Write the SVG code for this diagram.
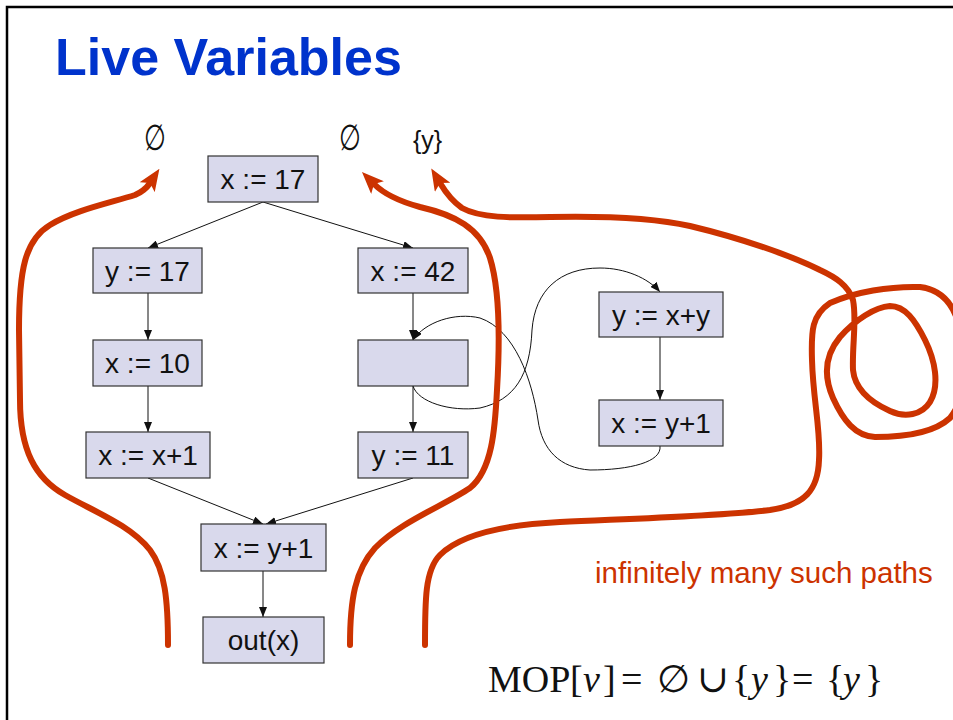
<svg xmlns="http://www.w3.org/2000/svg" width="953" height="720" viewBox="0 0 953 720">
<style>
.box{fill:#D9D9EC;stroke:#333;stroke-width:1.2}
.lbl{font-family:"Liberation Sans",Arial,sans-serif;font-size:28px;fill:#111;text-anchor:middle}
.edge{fill:none;stroke:#111;stroke-width:1}
.red{fill:none;stroke:#CC3300;stroke-width:6;stroke-linecap:round;stroke-linejoin:round}
.set{font-family:"Liberation Sans","DejaVu Sans",sans-serif;fill:#111}
.math{font-family:"Liberation Serif","DejaVu Serif",serif;font-size:38px;fill:#111}
</style>
<defs>
<marker id="ah" viewBox="0 0 10 8" refX="10" refY="4" markerWidth="10" markerHeight="8" markerUnits="userSpaceOnUse" orient="auto">
<path d="M0,0 L10,4 L0,8 z" fill="#111"/>
</marker>
<marker id="rh" viewBox="0 0 22 18" refX="5" refY="9" markerWidth="22" markerHeight="18" markerUnits="userSpaceOnUse" orient="auto">
<path d="M0,0 L22,9 L0,18 L5,9 z" fill="#CC3300"/>
</marker>
</defs>
<rect width="953" height="720" fill="#fff"/>
<path d="M7,720 L7,7 L953,7" fill="none" stroke="#000" stroke-width="2.5"/>
<text x="55" y="75" font-family="Liberation Sans,Arial,sans-serif" font-weight="bold" font-size="52" fill="#0033CC">Live Variables</text>

<g id="sets">
<text class="set" x="155" y="150" text-anchor="middle" style="font-size:36px" transform="translate(155,0) scale(0.7,1) translate(-155,0)">∅</text>
<text class="set" x="350" y="150" text-anchor="middle" style="font-size:36px" transform="translate(350,0) scale(0.7,1) translate(-350,0)">∅</text>
<text class="set" x="413" y="149" style="font-size:25px">{y}</text>
</g>

<g id="connectors">
<path class="edge" d="M263,202 L148,248" marker-end="url(#ah)"/>
<path class="edge" d="M263,202 L413,248" marker-end="url(#ah)"/>
<path class="edge" d="M148,293 L148,340" marker-end="url(#ah)"/>
<path class="edge" d="M148,386 L148,432" marker-end="url(#ah)"/>
<path class="edge" d="M148,478 L263,524" marker-end="url(#ah)"/>
<path class="edge" d="M413,478 L266,524" marker-end="url(#ah)"/>
<path class="edge" d="M263,571 L263,617" marker-end="url(#ah)"/>
<path class="edge" d="M413,293 L413,340" marker-end="url(#ah)"/>
<path class="edge" d="M413,386 L413,432" marker-end="url(#ah)"/>
<path class="edge" d="M660,337 L660,400" marker-end="url(#ah)"/>
<path class="edge" d="M413,386 C418,402 450,412 480,408 C515,400 530,375 532,330 C535,290 560,268 600,268 C625,268 648,278 660,292" marker-end="url(#ah)"/>
<path class="edge" d="M660,446 C662,462 630,470 590,470 C560,468 542,450 538,420 C532,380 515,330 480,318 C455,312 425,322 413,340" marker-end="url(#ah)"/>
</g>

<g id="n1"><rect class="box" x="208" y="156" width="110" height="46"/><text class="lbl" x="263" y="189">x := 17</text></g>
<g id="n2"><rect class="box" x="93" y="248" width="109" height="45"/><text class="lbl" x="147.5" y="281">y := 17</text></g>
<g id="n3"><rect class="box" x="93" y="340" width="109" height="46"/><text class="lbl" x="147.5" y="373">x := 10</text></g>
<g id="n4"><rect class="box" x="86" y="432" width="124" height="46"/><text class="lbl" x="148" y="465">x := x+1</text></g>
<g id="n5"><rect class="box" x="358" y="248" width="110" height="45"/><text class="lbl" x="413" y="281">x := 42</text></g>
<g id="n6"><rect class="box" x="358" y="340" width="110" height="46"/></g>
<g id="n7"><rect class="box" x="358" y="432" width="110" height="46"/><text class="lbl" x="413" y="465">y := 11</text></g>
<g id="n8"><rect class="box" x="201" y="524" width="125" height="47"/><text class="lbl" x="263.5" y="558">x := y+1</text></g>
<g id="n9"><rect class="box" x="203" y="617" width="121" height="46"/><text class="lbl" x="263.5" y="650">out(x)</text></g>
<g id="n10"><rect class="box" x="599" y="292" width="124" height="45"/><text class="lbl" x="661" y="325">y := x+y</text></g>
<g id="n11"><rect class="box" x="599" y="400" width="124" height="46"/><text class="lbl" x="661" y="433">x := y+1</text></g>

<g id="paths">
<path class="red" d="M168,645 C168,600 165,570 150,550 C130,525 95,512 65,495 C35,478 20,450 20,400 L19,330 C19,270 25,240 50,225 C75,210 110,203 135,195 C142,192 146,189 150,183" marker-end="url(#rh)"/>
<path class="red" d="M350,645 C350,600 355,570 375,548 C400,522 445,505 470,488 C492,470 495,430 497,390 C500,340 500,290 490,258 C480,228 455,215 420,207 C398,201 384,194 374,184" marker-end="url(#rh)"/>
<path class="red" d="M425,645 C425,600 425,570 440,555 C460,535 500,525 560,522 C650,518 720,516 770,510 C805,505 818,490 819,460 C821,430 813,400 812,360 C811,330 812,315 830,303 C855,292 890,286 920,287 C945,290 958,310 962,340 C966,370 965,400 950,418 C935,432 905,437 875,437 C855,436 843,420 833,398 C823,375 825,355 840,337 C855,320 875,307 890,306 C905,306 915,320 925,340 C935,360 940,385 930,402 C922,415 905,418 890,411 C870,402 855,390 853,370 C852,345 857,320 853,300 C848,285 835,277 820,270 C790,255 740,238 690,226 C650,217 600,216 550,217 C510,218 480,218 462,208 C452,201 446,193 440,183" marker-end="url(#rh)"/>
</g>

<text x="595" y="583" font-family="Liberation Sans,Arial,sans-serif" font-size="29.5" fill="#CC3300">infinitely many such paths</text>

<g id="formula">
<text class="math" y="692"><tspan x="488">MOP</tspan><tspan x="570">[</tspan><tspan x="583" font-style="italic">v</tspan><tspan x="603">]</tspan><tspan x="621">=</tspan><tspan x="657">∅</tspan><tspan x="697">∪</tspan><tspan x="732">{</tspan><tspan x="751" font-style="italic">y</tspan><tspan x="773">}</tspan><tspan x="792">=</tspan><tspan x="826">{</tspan><tspan x="843" font-style="italic">y</tspan><tspan x="865">}</tspan></text>
</g>
</svg>
